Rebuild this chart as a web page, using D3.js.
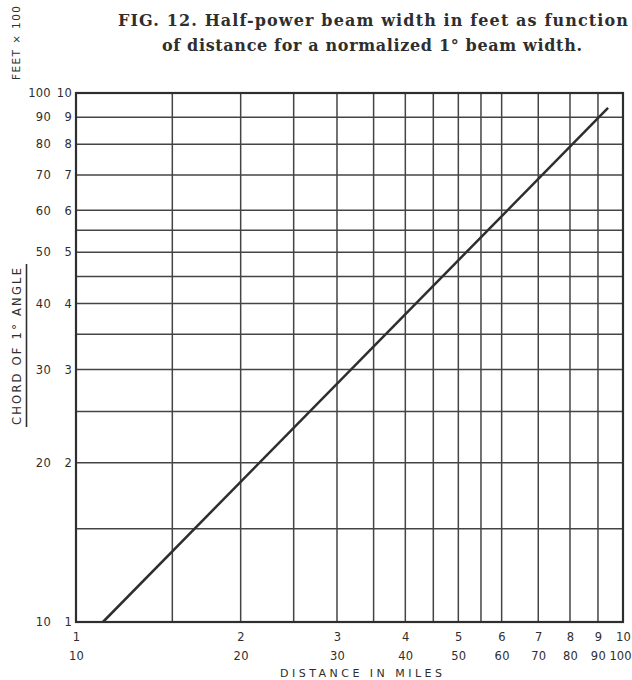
<!DOCTYPE html>
<html><head><meta charset="utf-8">
<script src="https://cdn.jsdelivr.net/npm/d3@7"></script>
<style>
html,body{margin:0;padding:0;background:#fff;}
svg{display:block;}
.tick text{font-family:"DejaVu Sans",sans-serif;}
</style></head>
<body>
<script>
// ---- data ----
const xTicks = [1,2,3,4,5,6,7,8,9,10];
const xLabelsTop = ["1","2","3","4","5","6","7","8","9","10"];
const xLabelsBottom = ["10","20","30","40","50","60","70","80","90","100"];
const yTicks = [1,2,3,4,5,6,7,8,9,10];
const yLabelsOuter = ["10","20","30","40","50","60","70","80","90","100"];
const yLabelsInner = ["1","2","3","4","5","6","7","8","9","10"];
const gridValues = [1.5,2,2.5,3,3.5,4,4.5,5,5.5,6,7,8,9];
const lineX = [1.12, 9.39];   // distance (x10 miles)
const lineY = [1.0, 9.37];    // chord (feet x100)

const W = 632, H = 680;
const svg = d3.select("body").append("svg").attr("width", W).attr("height", H);
const ink = "#2e2e2e";

const x = d3.scaleLog().domain([1,10]).range([76,623]);
const y = d3.scaleLog().domain([1,10]).range([622,93]);

// grid
svg.append("g").selectAll("line").data(gridValues).join("line")
  .attr("x1", d=>x(d)).attr("x2", d=>x(d)).attr("y1", y(1)).attr("y2", y(10))
  .attr("stroke", "#444").attr("stroke-width", 1.5);
svg.append("g").selectAll("line").data(gridValues).join("line")
  .attr("y1", d=>y(d)).attr("y2", d=>y(d)).attr("x1", x(1)).attr("x2", x(10))
  .attr("stroke", "#444").attr("stroke-width", 1.5);

// frame
svg.append("rect").attr("x", x(1)).attr("y", y(10))
  .attr("width", x(10)-x(1)).attr("height", y(1)-y(10))
  .attr("fill", "none").attr("stroke", ink).attr("stroke-width", 2.2);

// data line
const pts = lineX.map((d,i)=>[d, lineY[i]]);
svg.append("path").datum(pts)
  .attr("d", d3.line().x(d=>x(d[0])).y(d=>y(d[1])))
  .attr("fill","none").attr("stroke", ink).attr("stroke-width", 2.5);

// axes (labels only)
function styleAxis(g){
  g.select(".domain").remove();
  g.selectAll(".tick line").remove();
  g.selectAll(".tick text").attr("fill", ink).attr("font-size", 11.5).attr("letter-spacing", 0.3);
}
svg.append("g").attr("transform", `translate(0,${y(1)})`)
  .call(d3.axisBottom(x).tickValues(xTicks).tickSize(0).tickPadding(11)
    .tickFormat((d,i)=>xLabelsTop[i]))
  .call(styleAxis);
const xb = svg.append("g").attr("transform", `translate(0,${y(1)})`)
  .call(d3.axisBottom(x).tickValues(xTicks).tickSize(0).tickPadding(30)
    .tickFormat((d,i)=>xLabelsBottom[i]))
  .call(styleAxis);
// keep last label inside the page
xb.selectAll(".tick text").filter((d,i)=>i===xTicks.length-1)
  .attr("text-anchor","end").attr("x", 631 - x(10)).attr("letter-spacing", 0);

svg.append("g").attr("transform", `translate(72,0)`)
  .call(d3.axisLeft(y).tickValues(yTicks).tickSize(0).tickPadding(0)
    .tickFormat((d,i)=>yLabelsInner[i]))
  .call(styleAxis);
svg.append("g").attr("transform", `translate(51,0)`)
  .call(d3.axisLeft(y).tickValues(yTicks).tickSize(0).tickPadding(0)
    .tickFormat((d,i)=>yLabelsOuter[i]))
  .call(styleAxis);

// axis titles
svg.append("text").attr("x", 280).attr("y", 677)
  .attr("font-family","DejaVu Sans, sans-serif").attr("font-size",11)
  .attr("fill", ink).attr("textLength", 162).attr("lengthAdjust","spacing")
  .text("DISTANCE  IN  MILES");

svg.append("text").attr("transform","translate(21,425) rotate(-90)")
  .attr("font-family","DejaVu Sans, sans-serif").attr("font-size",11.5)
  .attr("fill", ink).attr("textLength", 157).attr("lengthAdjust","spacing")
  .text("CHORD OF 1° ANGLE");
svg.append("line").attr("x1",26.5).attr("x2",26.5).attr("y1",264).attr("y2",427)
  .attr("stroke", ink).attr("stroke-width",1.6);

svg.append("text").attr("transform","translate(20,80) rotate(-90)")
  .attr("font-family","DejaVu Sans, sans-serif").attr("font-size",10.5)
  .attr("fill", ink).attr("textLength", 74).attr("lengthAdjust","spacing")
  .text("FEET × 100");

// title
svg.append("text").attr("x", 118).attr("y", 26)
  .attr("font-family","DejaVu Serif, serif").attr("font-weight","bold").attr("font-size",16)
  .attr("fill", ink).attr("textLength", 510).attr("lengthAdjust","spacing")
  .text("FIG. 12.  Half-power beam width in feet as function");
svg.append("text").attr("x", 162).attr("y", 51)
  .attr("font-family","DejaVu Serif, serif").attr("font-weight","bold").attr("font-size",16)
  .attr("fill", ink).attr("textLength", 420).attr("lengthAdjust","spacing")
  .text("of distance for a normalized 1° beam width.");
</script>
</body></html>
